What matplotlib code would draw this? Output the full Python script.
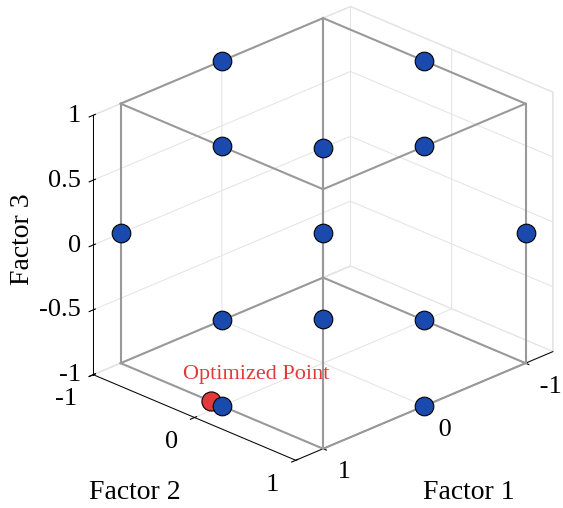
import matplotlib
matplotlib.use("Agg")
from matplotlib import pyplot as plt
import numpy as np
import itertools

plt.rcParams["font.family"] = ["Liberation Serif", "DejaVu Serif"]

# Box-Behnken design points (coded levels)
factor1 = [1, 1, -1, -1, 1, 1, -1, -1, 0, 0, 0, 0, 0]
factor2 = [1, -1, 1, -1, 0, 0, 0, 0, 1, 1, -1, -1, 0]
factor3 = [0, 0, 0, 0, 1, -1, 1, -1, 1, -1, 1, -1, 0]

# optimized point
opt_point = [1.0, -0.11, -1.0]
opt_label = "Optimized Point"

levels = [-1, 1]
xy_ticks = [-1, 0, 1]
xy_ticklabels = ["-1", "0", "1"]
z_ticks = [-1, -0.5, 0, 0.5, 1]
z_ticklabels = ["-1", "-0.5", "0", "0.5", "1"]

blue = "#1a4aad"
red = "#e23a3c"
edge_gray = "#999999"

fig = plt.figure(figsize=(5.63, 5.08), dpi=100)
ax = fig.add_axes([0.0617, 0.027, 1.0, 1.0], projection="3d", proj_type="ortho")

# cube edges
corners = list(itertools.product(levels, levels, levels))
for a, b in itertools.combinations(corners, 2):
    if sum(p != q for p, q in zip(a, b)) == 1:
        ax.plot([a[0], b[0]], [a[1], b[1]], [a[2], b[2]], color=edge_gray, lw=1.5, zorder=1)

ax.scatter([opt_point[0]], [opt_point[1]], [opt_point[2]], s=190, c=red,
           edgecolors="black", linewidths=0.8, depthshade=False, zorder=3)
ax.scatter(factor1, factor2, factor3, s=180, c=blue, edgecolors="black",
           linewidths=0.8, depthshade=False, zorder=4)
ax.text(1.0, -0.38, -0.885, opt_label, color=red, fontsize=16, ha="left", va="center")

ax.set_xlim(-1.27, 1.27)
ax.set_ylim(-1, 1)
ax.set_zlim(-1, 1)
ax.set_box_aspect((2.54, 2, 2), zoom=1.04)
ax.view_init(elev=25, azim=45)

# labels sit to the side of the ticks, like the MATLAB layout
ax.set_xticks(xy_ticks)
ax.set_xticklabels([" " + t for t in xy_ticklabels], fontsize=19, ha="left")
ax.set_yticks(xy_ticks)
ax.set_yticklabels([t + " " for t in xy_ticklabels], fontsize=19, ha="right")
ax.set_zticks(z_ticks)
ax.set_zticklabels(z_ticklabels, fontsize=19, ha="right", va="center")
ax.xaxis.set_tick_params(pad=-1)
ax.yaxis.set_tick_params(pad=-1)
ax.zaxis.set_tick_params(pad=-3)

for axis in (ax.xaxis, ax.yaxis, ax.zaxis):
    axis.set_pane_color((1, 1, 1, 1))
    axis.pane.set_edgecolor("#e6e6e6")
    axis._axinfo["grid"]["color"] = "#e3e3e3"
    axis._axinfo["grid"]["linewidth"] = 0.7
    axis._axinfo["axisline"]["color"] = "black"
    axis.line.set_linewidth(0.7)

fig.text(0.04, 0.53, "Factor 3", rotation=90, fontsize=20, ha="center", va="center")
fig.text(0.24, 0.03, "Factor 2", fontsize=20, ha="center", va="center")
fig.text(0.833, 0.03, "Factor 1", fontsize=20, ha="center", va="center")

fig.savefig("out.png", dpi=100)
